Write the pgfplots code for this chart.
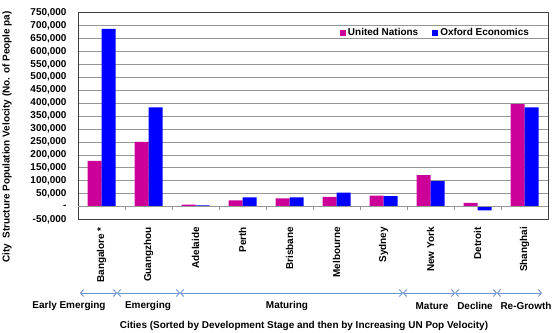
\documentclass[border=0pt]{standalone}
\usepackage{pgfplots}
\pgfplotsset{compat=1.18}
\usepackage{fontspec}
\setmainfont{Liberation Sans}
\usetikzlibrary{arrows.meta}
\definecolor{unmag}{RGB}{204,0,153}
\definecolor{oeblue}{RGB}{0,0,255}
\definecolor{stageblue}{RGB}{110,150,210}
\definecolor{gridgray}{RGB}{150,150,150}
\newcommand{\lab}{\bfseries\fontsize{10}{12}\selectfont}
\begin{document}
\begin{tikzpicture}[x=1bp,y=1bp]
\useasboundingbox (-78,-112.4) rectangle (474,219.6);
\begin{axis}[
  at={(0,0)}, anchor=south west,
  scale only axis, width=470bp, height=207bp,
  xmin=-0.5, xmax=9.5, ymin=-50000, ymax=750000,
  scaled y ticks=false,
  ybar=0pt, bar width=14bp,
  xtick={0,...,9},
  xticklabels={Bangalore *, Guangzhou, Adelaide, Perth, Brisbane, Melbourne, Sydney, New York, Detroit, Shanghai},
  xticklabel style={rotate=90, anchor=east, font=\lab},
  xticklabel shift=4bp,
  ytick={-50000,0,50000,100000,150000,200000,250000,300000,350000,400000,450000,500000,550000,600000,650000,700000,750000},
  yticklabels={{-50,000},{-},{50,000},{100,000},{150,000},{200,000},{250,000},{300,000},{350,000},{400,000},{450,000},{500,000},{550,000},{600,000},{650,000},{700,000},{750,000}},
  yticklabel style={font=\lab},
  yticklabel shift=8bp,
  major tick length=0pt,
  ymajorgrids, grid style={gridgray, line width=0.8bp},
  axis line style={black!75, line width=0.9bp},
  legend style={at={(0.557,0.901)}, anchor=west, draw=none, fill=none, font=\lab,
    legend columns=2, inner sep=0pt,
    /tikz/every even column/.append style={column sep=12bp}},
  legend image code/.code={\fill[#1] (0bp,-3bp) rectangle (6bp,3bp);},
]
\addplot[fill=unmag, draw=none] coordinates {
(0,177000) (1,250000) (2,8000) (3,24000) (4,32000) (5,38000) (6,43000) (7,122000) (8,15000) (9,396000)};
\addlegendentry{United Nations}
\addplot[fill=oeblue, draw=none] coordinates {
(0,687000) (1,384000) (2,5000) (3,36000) (4,36000) (5,54000) (6,41000) (7,99000) (8,-14000) (9,384000)};
\addlegendentry{Oxford Economics}
\end{axis}
% zero line with boundary ticks
\draw[gridgray, line width=0.8bp] (0,12.94) -- (470,12.94);
\foreach \k in {1,...,9} \draw[gridgray, line width=0.8bp] (47*\k,12.94) -- (47*\k,9.6);
% y label
\node[rotate=90, font=\lab] at (-71,82.6) {City\ \ Structure Population Velocity (No. of People pa)};
% stage arrows
\begin{scope}[stageblue, line width=0.9bp, arrows={Straight Barb[length=3bp,width=7bp]-Straight Barb[length=3bp,width=7bp]}]
\draw (2,-73.4) -- (39,-73.4);
\draw (39,-73.4) -- (102,-73.4);
\draw (102,-73.4) -- (325,-73.4);
\draw (325,-73.4) -- (377,-73.4);
\draw (377,-73.4) -- (419,-73.4);
\draw (419,-73.4) -- (464,-73.4);
\end{scope}
\node[font=\lab] at (-9,-86.4) {Early Emerging};
\node[font=\lab] at (70,-86.4) {Emerging};
\node[font=\lab] at (209,-86.4) {Maturing};
\node[font=\lab] at (354,-86.4) {Mature};
\node[font=\lab] at (397,-86.4) {Decline};
\node[font=\lab] at (448,-86.4) {Re-Growth};
\node[font=\lab] at (226,-106.4) {Cities (Sorted by Development Stage and then by Increasing UN Pop Velocity)};
\end{tikzpicture}
\end{document}
